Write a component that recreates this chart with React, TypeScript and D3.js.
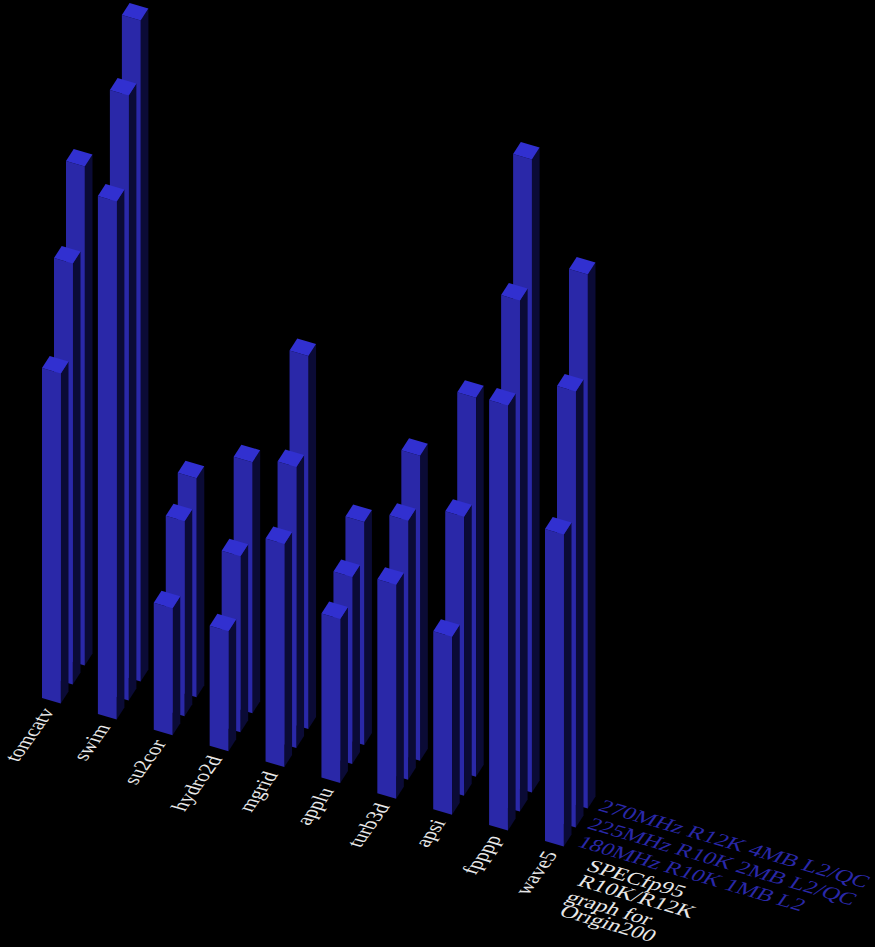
import React from 'react';
import * as d3 from 'd3';

const width = 875;
const height = 947;

const benchmarks = ['tomcatv', 'swim', 'su2cor', 'hydro2d', 'mgrid', 'applu', 'turb3d', 'apsi', 'fpppp', 'wave5'];
const seriesNames = ['180MHz R10K 1MB L2', '225MHz R10K 2MB L2/QC', '270MHz R12K 4MB L2/QC'];
const titleLines = ['SPECfp95', 'R10K/R12K', 'graph for', 'Origin200'];

// one list per processor, front row to back row
const r10k180 = [33.0, 51.8, 12.7, 12.0, 22.3, 16.4, 21.4, 17.8, 42.5, 31.2];
const r10k225 = [42.1, 60.5, 19.5, 17.6, 28.1, 18.7, 25.9, 27.9, 51.1, 43.6];
const r12k270 = [49.9, 66.1, 21.9, 25.1, 37.3, 22.3, 30.5, 37.9, 63.3, 53.4];
const rows = [r10k180, r10k225, r12k270];

const FRONT = '#2a28a8';
const TOP = '#3130d0';
const SIDE = '#0b0b36';

// projected axes of the floor
const xCat = d3.scaleLinear().domain([0, 9]).range([42, 545]);
const yCat = d3.scaleLinear().domain([0, 9]).range([698, 841]);
const xRow = d3.scaleLinear().domain([0, 2]).range([0, 24]);
const yRow = d3.scaleLinear().domain([0, 2]).range([0, -38]);
const h = d3.scaleLinear().domain([0, 70]).range([0, 700]);

const barW: [number, number] = [18.8, 5.5];
const barD: [number, number] = [7.7, -12];

const poly = d3.line<[number, number]>().curve(d3.curveLinearClosed);

// text lying on the floor: baseline along the bar width, or along the depth
const floorU: [number, number] = [0.96, 0.28];
const floorV: [number, number] = [0.58, -0.81];

const legendMatrix = (x: number, y: number, s: number) =>
  `matrix(${floorU[0] * s},${floorU[1] * s},${-floorV[0] * 0.98},${-floorV[1] * 0.98},${x},${y})`;
const labelMatrix = (x: number, y: number) =>
  `matrix(${floorV[0] * 0.99},${floorV[1] * 0.99},${floorU[0] * 1.1},${floorU[1] * 1.1},${x},${y})`;

const Bar = ({ cat, row, value }: { cat: number; row: number; value: number }) => {
  const x = xCat(cat) + xRow(row);
  const y = yCat(cat) + yRow(row);
  const t = y - h(value);
  const front: [number, number][] = [[x, y], [x + barW[0], y + barW[1]], [x + barW[0], t + barW[1]], [x, t]];
  const side: [number, number][] = [
    [x + barW[0], y + barW[1]],
    [x + barW[0] + barD[0], y + barW[1] + barD[1]],
    [x + barW[0] + barD[0], t + barW[1] + barD[1]],
    [x + barW[0], t + barW[1]],
  ];
  const top: [number, number][] = [
    [x, t],
    [x + barW[0], t + barW[1]],
    [x + barW[0] + barD[0], t + barW[1] + barD[1]],
    [x + barD[0], t + barD[1]],
  ];
  return (
    <g>
      <path d={poly(side) as string} fill={SIDE} />
      <path d={poly(front) as string} fill={FRONT} />
      <path d={poly(top) as string} fill={TOP} />
    </g>
  );
};

const legendPos: [number, number][] = [[576, 846], [586, 828], [597, 810]];
const legendScale = [1.185, 1.2, 1.21];
const titlePos: [number, number][] = [[585, 870], [576, 885], [564, 901], [558, 915]];

export default function App() {
  const fontFamily = '"Liberation Serif", serif';
  return (
    <svg
      width={width}
      height={height}
      style={{ position: 'absolute', left: 0, top: 0, background: '#000' }}
      fontFamily={fontFamily}
      fontSize={20}
    >
      {/* back row first so the front rows cover it */}
      {[2, 1, 0].map(row =>
        rows[row].map((v, i) => <Bar key={`${row}-${i}`} cat={i} row={row} value={v} />)
      )}
      {benchmarks.map((name, i) => (
        <text
          key={name}
          textAnchor="end"
          fill="#e8e8e8"
          transform={labelMatrix(xCat(i) + 13, yCat(i) + 13)}
        >
          {name}
        </text>
      ))}
      {seriesNames.map((name, i) => (
        <text key={name} fill={FRONT} transform={legendMatrix(legendPos[i][0], legendPos[i][1], legendScale[i])}>
          {name}
        </text>
      ))}
      {titleLines.map((line, i) => (
        <text key={line} fill="#e8e8e8" transform={legendMatrix(titlePos[i][0], titlePos[i][1], 1.18)}>
          {line}
        </text>
      ))}
    </svg>
  );
}
